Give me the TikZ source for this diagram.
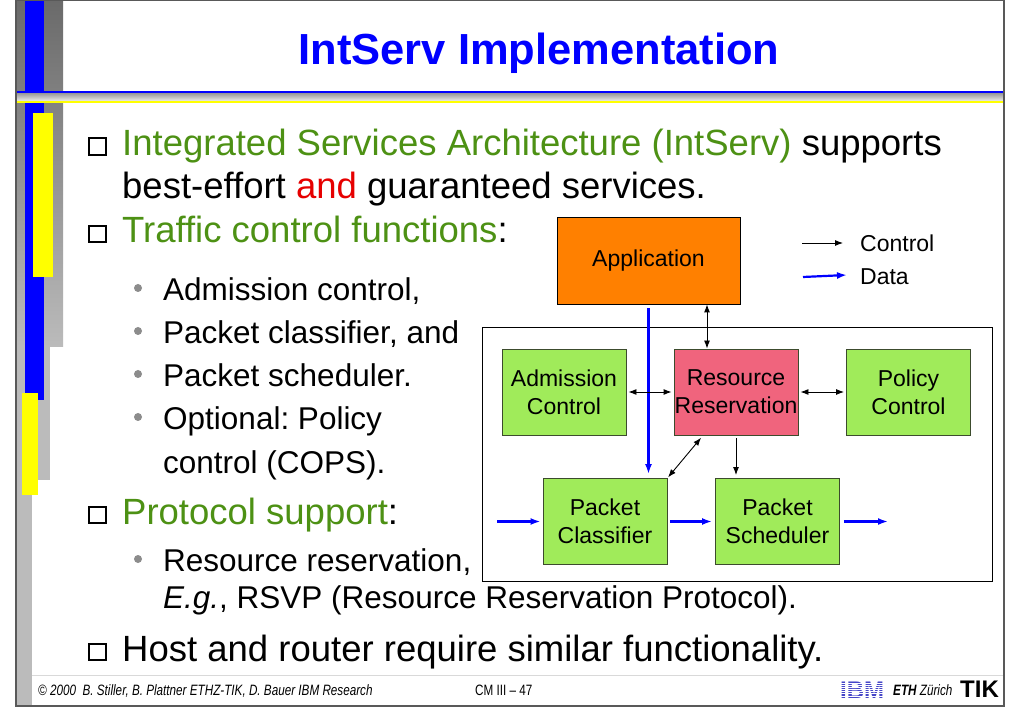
\documentclass[tikz,border=0pt]{standalone}
\usepackage{fontspec}
\setmainfont{Liberation Sans}
\newfontfamily\footfont[FakeStretch=0.78]{Liberation Sans}
\usetikzlibrary{arrows.meta,calc}
\frenchspacing

\definecolor{titleblue}{RGB}{0,0,255}
\definecolor{headgreen}{RGB}{77,145,20}
\definecolor{andred}{RGB}{230,0,0}
\definecolor{apporange}{RGB}{255,128,0}
\definecolor{respink}{RGB}{240,100,125}
\definecolor{boxgreen}{RGB}{160,235,90}
\definecolor{boxline}{RGB}{60,75,45}
\definecolor{baryellow}{RGB}{255,255,0}
\definecolor{bargray}{RGB}{187,187,187}
\definecolor{bardark}{RGB}{106,106,106}
\definecolor{ibmblue}{RGB}{70,70,200}

\begin{document}
\begin{tikzpicture}
	[x=1pt,y=-1pt,
	every node/.style={inner sep=0pt},
	main/.style={anchor=base west,font=\fontsize{36.5}{40}\selectfont},
	sub/.style={anchor=base west,font=\fontsize{31.5}{36}\selectfont},
	sqbullet/.style={draw,line width=2.4pt,minimum size=16.5pt},
	dot/.style={circle,fill=gray!90,minimum size=8pt},
	block/.style={draw=boxline,line width=0.9pt,fill=boxgreen,minimum width=124pt,minimum height=86pt,align=center,font=\fontsize{23}{28}\selectfont},
	ctrl/.style={draw=black,line width=0.9pt,>={Latex[length=8pt,width=6pt]}},
	data/.style={draw=titleblue,line width=2.2pt,>={Latex[length=10pt,width=7pt]}},
	foot/.style={anchor=base west,font=\footfont\fontsize{15}{16}\selectfont}]
	\useasboundingbox (0,0) rectangle (1023,708);
	\fill[white] (0,0) rectangle (1023,708);

	% left bars
	\shade[top color=bardark,bottom color=bargray] (16,0) rectangle (63,347);
	\fill[bargray] (16,347) rectangle (50,480);
	\fill[bargray] (16,480) rectangle (32,706);
	\fill[titleblue] (25,0) rectangle (44,400);
	\fill[baryellow] (33,113) rectangle (53,277);
	\fill[baryellow] (22,393) rectangle (38,495);

	% title rule
	\shade[top color=gray!90,bottom color=gray!15] (17,92) rectangle (1004,101);
	\draw[titleblue,line width=1.6pt] (17,92) -- (1004,92);
	\draw[baryellow,line width=1.6pt] (17,102) -- (1004,102);

	\node[anchor=base,font=\bfseries\fontsize{43.5}{46}\selectfont,text=titleblue] (title) at (539,65) {IntServ Implementation};

	% text
	\node[sqbullet] (b1) at (97.5,146.5) {};
	\node[main] (l1) at (122,155.5) {\textcolor{headgreen}{Integrated Services Architecture (IntServ)} supports};
	\node[main] (l2) at (122,199) {best-effort \textcolor{andred}{and} guaranteed services.};
	\node[sqbullet] (b2) at (97.5,234) {};
	\node[main] (l3) at (122,243) {\textcolor{headgreen}{Traffic control functions}:};
	\node[dot] (d1) at (138,288) {};
	\node[sub] (s1) at (163,301) {Admission control,};
	\node[dot] (d2) at (138,331) {};
	\node[sub] (s2) at (163,344) {Packet classifier, and};
	\node[dot] (d3) at (138,374) {};
	\node[sub] (s3) at (163,387) {Packet scheduler.};
	\node[dot] (d4) at (138,417) {};
	\node[sub] (s4) at (163,430) {Optional: Policy};
	\node[sub] (s5) at (163,473) {control (COPS).};
	\node[sqbullet] (b3) at (97.5,515) {};
	\node[main] (l4) at (122,524) {\textcolor{headgreen}{Protocol support}:};
	\node[dot] (d5) at (138,559) {};
	\node[sub] (s6) at (163,571.5) {Resource reservation,};
	\node[sub] (s7) at (163,608) {\textit{E.g.}, RSVP (Resource Reservation Protocol).};
	\node[sqbullet] (b4) at (97.5,652) {};
	\node[main] (l5) at (122,661) {Host and router require similar functionality.};

	% diagram
	\node[draw,line width=0.9pt,fill=apporange,minimum width=183pt,minimum height=87pt,font=\fontsize{23}{28}\selectfont] (app) at (648.5,260.5) {Application};
	\node[draw,line width=0.9pt,minimum width=510pt,minimum height=254pt] (router) at (737,454) {};
	\node[block] (adm) at (564,392) {Admission\\Control};
	\node[block,fill=respink] (res) at (736,392) {Resource\\Reservation};
	\node[block] (pol) at (908.5,392) {Policy\\Control};
	\node[block] (cls) at (605,521.5) {Packet\\Classifier};
	\node[block] (sch) at (777.5,521.5) {Packet\\Scheduler};

	\coordinate (ar) at ([xshift=-29pt]res.north);
	\draw[ctrl,<->] (ar) -- (ar |- app.south);
	\draw[data,->,shorten <=4pt,shorten >=4pt] (app.south) -- (app.south |- cls.north);
	\draw[ctrl,<->,shorten <=2pt,shorten >=2pt] (adm.east) -- (res.west);
	\draw[ctrl,<->,shorten <=2pt,shorten >=2pt] (res.east) -- (pol.west);
	\coordinate (rd) at ([xshift=-33pt]res.south);
	\draw[ctrl,<->,shorten <=3pt,shorten >=1pt] (rd) -- (cls.north east);
	\draw[ctrl,->,shorten <=3pt,shorten >=3pt] (res.south) -- (res.south |- sch.north);

	\coordinate (din) at (497,521.5);
	\coordinate (dout) at (888,521.5);
	\draw[data,->,shorten >=2pt] (din) -- (cls.west);
	\draw[data,->,shorten <=3pt,shorten >=3pt] (cls.east) -- (sch.west);
	\draw[data,->,shorten <=4pt] (sch.east) -- (dout);

	% legend
	\coordinate (lc1) at (802,243);
	\coordinate (lc2) at (843,243);
	\draw[ctrl,->] (lc1) -- (lc2);
	\node[anchor=west,font=\fontsize{23}{28}\selectfont] (lctrl) at (860,243) {Control};
	\coordinate (ld1) at (803,277);
	\coordinate (ld2) at (847,275);
	\draw[data,->] (ld1) -- (ld2);
	\node[anchor=west,font=\fontsize{23}{28}\selectfont] (ldata) at (860,277) {Data};

	% footer
	\draw[gray!30,line width=1pt] (32,675) -- (1004,675);
	\node[foot,font=\footfont\itshape\fontsize{15}{16}\selectfont] (copy) at (38,695) {© 2000\ \ B. Stiller, B. Plattner ETHZ-TIK, D. Bauer IBM Research};
	\node[foot] (page) at (475,695) {CM III – 47};
	\node[anchor=base west,font=\bfseries\fontsize{24}{24}\selectfont,text=ibmblue] (ibm) at (840,698) {IBM};
	\foreach \f in {0.125,0.25,...,0.9}
		\draw[white,line width=1pt] ($(ibm.north west)!\f!(ibm.south west)$) -- ($(ibm.north east)!\f!(ibm.south east)$);
	\node[foot,font=\footfont\bfseries\itshape\fontsize{15}{16}\selectfont] (eth) at (893,695) {ETH \mdseries Zürich};
	\node[anchor=base west,font=\bfseries\fontsize{24}{24}\selectfont] (tik) at (960,697) {TIK};

	% frame
	\draw[black!65,line width=1.2pt] (16,0) rectangle (1004,706);
\end{tikzpicture}
\end{document}
